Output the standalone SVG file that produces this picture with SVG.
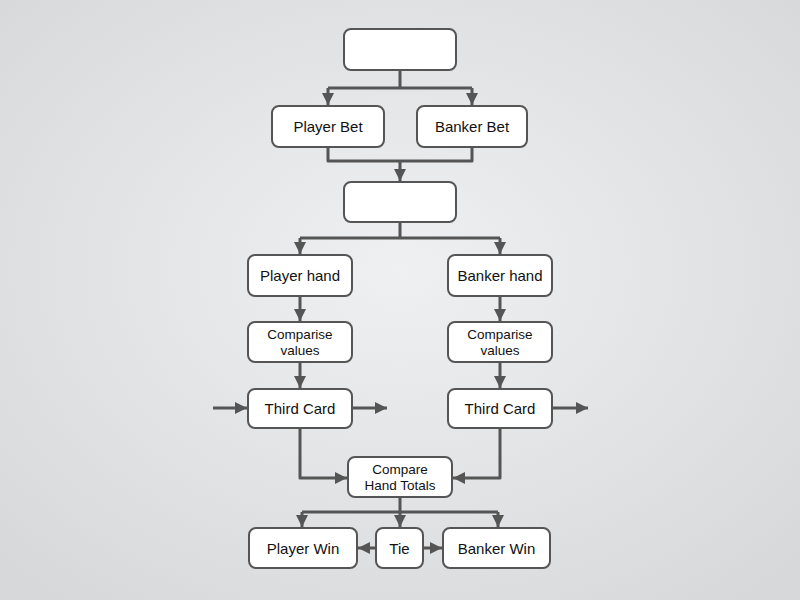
<svg xmlns="http://www.w3.org/2000/svg" width="800" height="600" viewBox="0 0 800 600">
<defs>
<radialGradient id="bg" cx="50%" cy="45%" r="70%">
<stop offset="0" stop-color="#eff0f1"/>
<stop offset="1" stop-color="#d6d8d9"/>
</radialGradient>
<marker id="ah" viewBox="0 0 10 10" refX="10" refY="5" markerWidth="12" markerHeight="12" markerUnits="userSpaceOnUse" orient="auto">
<path d="M0,0 L10,5 L0,10 Z" fill="#555"/>
</marker>
</defs>
<style>
.box{fill:#fff;stroke:#555;stroke-width:2}
.c{fill:none;stroke:#555;stroke-width:3;stroke-linejoin:round}
.t{font-family:"Liberation Sans",Arial,sans-serif;font-size:15px;fill:#111;text-anchor:middle}
.s{font-family:"Liberation Sans",Arial,sans-serif;font-size:13.5px;fill:#111;text-anchor:middle}
</style>
<rect width="800" height="600" fill="url(#bg)"/>
<g id="connectors">
<path class="c" d="M400,70 V88 M328,88 H472"/>
<path class="c" d="M328,88 V105" marker-end="url(#ah)"/>
<path class="c" d="M472,88 V105" marker-end="url(#ah)"/>
<path class="c" d="M328,147 V161 H472 V147"/>
<path class="c" d="M400,161 V181" marker-end="url(#ah)"/>
<path class="c" d="M400,222 V238 M300,238 H500"/>
<path class="c" d="M300,238 V254" marker-end="url(#ah)"/>
<path class="c" d="M500,238 V254" marker-end="url(#ah)"/>
<path class="c" d="M300,296 V321" marker-end="url(#ah)"/>
<path class="c" d="M500,296 V321" marker-end="url(#ah)"/>
<path class="c" d="M300,362 V388" marker-end="url(#ah)"/>
<path class="c" d="M500,362 V388" marker-end="url(#ah)"/>
<path class="c" d="M213,408 H247" marker-end="url(#ah)"/>
<path class="c" d="M352,408 H387" marker-end="url(#ah)"/>
<path class="c" d="M552,408 H588" marker-end="url(#ah)"/>
<path class="c" d="M300,428 V478 H347" marker-end="url(#ah)"/>
<path class="c" d="M500,428 V478 H453" marker-end="url(#ah)"/>
<path class="c" d="M400,497 V512 M302,512 H498"/>
<path class="c" d="M302,512 V527" marker-end="url(#ah)"/>
<path class="c" d="M400,512 V527" marker-end="url(#ah)"/>
<path class="c" d="M498,512 V527" marker-end="url(#ah)"/>
<path class="c" d="M376,548 H358" marker-end="url(#ah)"/>
<path class="c" d="M423,548 H442" marker-end="url(#ah)"/>
</g>
<g id="start"><rect class="box" x="344" y="29" width="112" height="41" rx="7"/></g>
<g id="player-bet"><rect class="box" x="272" y="106" width="112" height="41" rx="7"/><text class="t" x="328" y="132">Player Bet</text></g>
<g id="banker-bet"><rect class="box" x="417" y="106" width="110" height="41" rx="7"/><text class="t" x="472" y="132">Banker Bet</text></g>
<g id="deal"><rect class="box" x="344" y="182" width="112" height="40" rx="7"/></g>
<g id="player-hand"><rect class="box" x="248" y="255" width="104" height="41" rx="7"/><text class="t" x="300" y="281">Player hand</text></g>
<g id="banker-hand"><rect class="box" x="448" y="255" width="104" height="41" rx="7"/><text class="t" x="500" y="281">Banker hand</text></g>
<g id="player-compare"><rect class="box" x="248" y="322" width="104" height="40" rx="7"/><text class="s" x="300" y="339">Comparise</text><text class="s" x="300" y="355">values</text></g>
<g id="banker-compare"><rect class="box" x="448" y="322" width="104" height="40" rx="7"/><text class="s" x="500" y="339">Comparise</text><text class="s" x="500" y="355">values</text></g>
<g id="player-third"><rect class="box" x="248" y="389" width="104" height="39" rx="7"/><text class="t" x="300" y="414">Third Card</text></g>
<g id="banker-third"><rect class="box" x="448" y="389" width="104" height="39" rx="7"/><text class="t" x="500" y="414">Third Card</text></g>
<g id="compare-totals"><rect class="box" x="348" y="457" width="104" height="40" rx="7"/><text class="s" x="400" y="474">Compare</text><text class="s" x="400" y="490">Hand Totals</text></g>
<g id="player-win"><rect class="box" x="249" y="528" width="108" height="40" rx="7"/><text class="t" x="303" y="554">Player Win</text></g>
<g id="tie"><rect class="box" x="376" y="528" width="47" height="40" rx="7"/><text class="t" x="399.5" y="554">Tie</text></g>
<g id="banker-win"><rect class="box" x="443" y="528" width="107" height="40" rx="7"/><text class="t" x="496.5" y="554">Banker Win</text></g>
</svg>
